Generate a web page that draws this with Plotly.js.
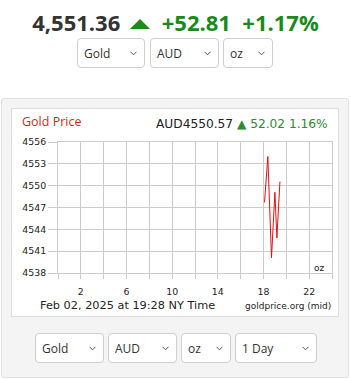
<!DOCTYPE html>
<html>
<head>
<meta charset="utf-8">
<script src="https://cdn.plot.ly/plotly-3.0.1.min.js"></script>
<style>
  html, body { margin:0; padding:0; background:#fff; width:351px; height:379px; overflow:hidden; }
  body { position:relative; font-family:"Open Sans", sans-serif; }
  .abs { position:absolute; }
  .headline { left:0; width:351px; top:7px; text-align:center; font-weight:700; font-size:22px; line-height:30px; white-space:nowrap; }
  .price { color:#333; }
  .chg { color:#1a8a1a; }
  .sel { position:absolute; box-sizing:border-box; background:#fff; border:1px solid #cfcfcf; border-radius:4px; font-size:12px; color:#333; }
  .sel span { position:absolute; left:6px; top:50%; transform:translateY(-50%); }
  .sel svg { position:absolute; top:50%; margin-top:-2px; }
  .panel { left:1px; top:98px; width:348px; height:280px; box-sizing:border-box; background:#f4f4f4; border:1px solid #e2e2e2; border-radius:3px; }
  .box { left:11px; top:108px; width:328px; height:209px; box-sizing:border-box; background:#fff; border:1px solid #dedede; }
  #chart { position:absolute; left:11px; top:108px; width:328px; height:209px; }
</style>
</head>
<body>
<div class="abs headline"><span class="price">4,551.36</span> <svg width="20" height="12" style="margin:0 6px 0 4px;vertical-align:1px"><polygon points="0,11 10,1 20,11" fill="#1a8a1a"/></svg> <span class="chg">+52.81</span>&nbsp; <span class="chg">+1.17%</span></div>

<div class="abs panel"></div>
<div class="abs box"></div>
<div id="chart"></div>

<script>
// ---- data ----
var hours = [18.09, 18.38, 18.70, 19.00, 19.17, 19.44];
var prices = [4547.7, 4554.0, 4540.1, 4549.1, 4542.8, 4550.57];
var xTickVals = [0, 2, 4, 6, 8, 10, 12, 14, 16, 18, 20, 22, 24];
var xTickText = ['', '2', '', '6', '', '10', '', '14', '', '18', '', '22', ''];
var yTickVals = [4538, 4541, 4544, 4547, 4550, 4553, 4556];
var topSelects = ['Gold', 'AUD', 'oz'];
var bottomSelects = ['Gold', 'AUD', 'oz', '1 Day'];
var spotLabel = 'AUD4550.57';
var spotChange = '▲ 52.02 1.16%';
var chartTitle = 'Gold Price';
var timeLabel = 'Feb 02, 2025 at 19:28 NY Time';
var sourceLabel = 'goldprice.org (mid)';
var unitLabel = 'oz';

// ---- dropdown boxes ----
function makeSelect(text, left, top, width, height) {
  var d = document.createElement('div');
  d.className = 'sel';
  d.style.left = left + 'px'; d.style.top = top + 'px';
  d.style.width = width + 'px'; d.style.height = height + 'px';
  var s = document.createElement('span'); s.textContent = text; d.appendChild(s);
  var ns = 'http://www.w3.org/2000/svg';
  var svg = document.createElementNS(ns, 'svg');
  svg.setAttribute('width', '7'); svg.setAttribute('height', '5');
  svg.style.right = '7px';
  var pl = document.createElementNS(ns, 'polyline');
  pl.setAttribute('points', '0.5,0.8 3.5,3.8 6.5,0.8');
  pl.setAttribute('fill', 'none'); pl.setAttribute('stroke', '#555'); pl.setAttribute('stroke-width', '1');
  svg.appendChild(pl); d.appendChild(svg);
  document.body.appendChild(d);
}
var topGeo = [[77, 68], [150, 69], [223, 50]];
topSelects.forEach(function (t, i) { makeSelect(t, topGeo[i][0], 38, topGeo[i][1], 30); });
var botGeo = [[35, 69], [108, 69], [181, 50], [235, 82]];
bottomSelects.forEach(function (t, i) { makeSelect(t, botGeo[i][0], 333, botGeo[i][1], 30); });

// ---- chart ----
var W = 328, H = 209, L = 47, R = 7, T = 34, B = 44;
var pw = W - L - R, ph = H - T - B;
function px(x) { return (x - 11 - L) / pw; }   // page x -> paper x
function py(y) { return 1 - (y - 108 - T) / ph; } // page y -> paper y

var trace = {
  x: hours, y: prices, type: 'scatter', mode: 'lines',
  line: { color: '#e31010', width: 1 }, hoverinfo: 'skip'
};
var dj = 'DejaVu Sans, Verdana, sans-serif';
var layout = {
  width: W, height: H,
  margin: { l: L, r: R, t: T, b: B, pad: 0 },
  paper_bgcolor: 'rgba(0,0,0,0)', plot_bgcolor: '#fff',
  showlegend: false,
  xaxis: {
    range: [0, 24], tickmode: 'array', tickvals: xTickVals, ticktext: xTickText,
    showgrid: true, gridcolor: '#cccccc', gridwidth: 1,
    zeroline: false, showline: true, mirror: true, linecolor: '#cccccc', linewidth: 1,
    ticks: 'outside', ticklen: 5, tickcolor: '#cccccc', tickwidth: 1,
    tickfont: { family: dj, size: 9.4, color: '#222' }, ticklabelstandoff: 5, fixedrange: true
  },
  yaxis: {
    range: [4538, 4556], tickmode: 'array', tickvals: yTickVals,
    showgrid: true, gridcolor: '#cccccc', gridwidth: 1,
    zeroline: false, showline: true, mirror: true, linecolor: '#cccccc', linewidth: 1,
    ticks: 'outside', ticklen: 9, tickcolor: '#cccccc', tickwidth: 1,
    tickfont: { family: dj, size: 9.4, color: '#222' }, fixedrange: true
  },
  annotations: [
    { text: chartTitle, xref: 'paper', yref: 'paper', x: px(20), y: py(121), xanchor: 'left', yanchor: 'middle',
      showarrow: false, font: { family: 'Open Sans, sans-serif', size: 12.5, color: '#e31c1c' } },
    { text: spotLabel + ' <span style="color:#2e8b2e">' + spotChange + '</span>', xref: 'paper', yref: 'paper',
      x: px(330), y: py(123.5), xanchor: 'right', yanchor: 'middle', showarrow: false,
      font: { family: dj, size: 12.2, color: '#222' } },
    { text: unitLabel, xref: 'paper', yref: 'paper', x: px(327), y: py(268), xanchor: 'right', yanchor: 'middle',
      showarrow: false, font: { family: dj, size: 9, color: '#222' } },
    { text: timeLabel, xref: 'paper', yref: 'paper', x: px(38), y: py(305.5), xanchor: 'left', yanchor: 'middle',
      showarrow: false, font: { family: dj, size: 11.3, color: '#222' } },
    { text: sourceLabel, xref: 'paper', yref: 'paper', x: px(332.5), y: py(306), xanchor: 'right', yanchor: 'middle',
      showarrow: false, font: { family: dj, size: 9, color: '#222' } }
  ]
};
Plotly.newPlot('chart', [trace], layout, { displayModeBar: false, staticPlot: true });
</script>
</body>
</html>
